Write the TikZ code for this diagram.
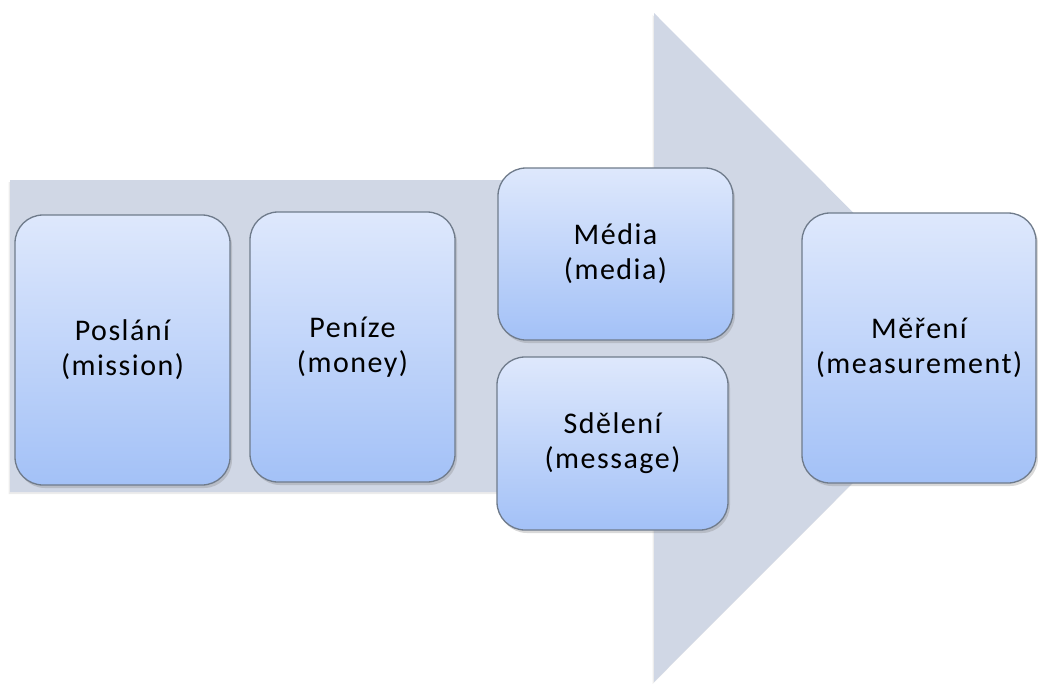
\documentclass[tikz,border=0pt]{standalone}
\usepackage{fontspec}
\setmainfont{Carlito}
\newfontfamily\stagefont[LetterSpace=5]{Carlito}
\usepackage{tikz}
\usepackage{xcolor}
\usetikzlibrary{shadows}

\definecolor{arrowgray}{HTML}{D0D7E5}
\definecolor{boxtop}{HTML}{DEE8FC}
\definecolor{boxbottom}{HTML}{A3C1F7}
\definecolor{boxline}{HTML}{6F7B8B}

\tikzset{
	stagebox/.style={draw=boxline, line width=1.3pt, rounded corners=28pt,
		top color=boxtop, bottom color=boxbottom, inner sep=0pt, align=center,
		font=\stagefont\fontsize{30}{35}\selectfont,
		drop shadow={opacity=0.3, shadow xshift=2pt, shadow yshift=-3pt}},
	bigarrow/.style={fill=arrowgray,
		drop shadow={opacity=0.15, shadow xshift=-1.5pt, shadow yshift=-2pt}}
}

\begin{document}
\begin{tikzpicture}[x=1pt, y=-1pt]
			\def \w{1038};
			\def \h{683};
			\useasboundingbox (0, 0) rectangle (\w, \h);
			% background arrow
			\path[bigarrow] (10, 180) -- (654, 180) -- (654, 13) -- (988, 347.5)
				-- (654, 682) -- (654, 492) -- (10, 492) -- cycle;
			% stages
			\node[stagebox, minimum width=215pt, minimum height=270pt] (mission) at (122.5, 350) {Poslání\\(mission)};
			\node[stagebox, minimum width=205pt, minimum height=270pt] (money) at (352.5, 347) {Peníze\\(money)};
			\node[stagebox, minimum width=235pt, minimum height=172pt] (media) at (615.5, 254) {Média\\(media)};
			\node[stagebox, minimum width=231pt, minimum height=173pt] (message) at (612.5, 443.5) {Sdělení\\(message)};
			\node[stagebox, minimum width=234pt, minimum height=270pt] (measure) at (919, 348) {Měření\\(measurement)};
		\end{tikzpicture}
\end{document}
